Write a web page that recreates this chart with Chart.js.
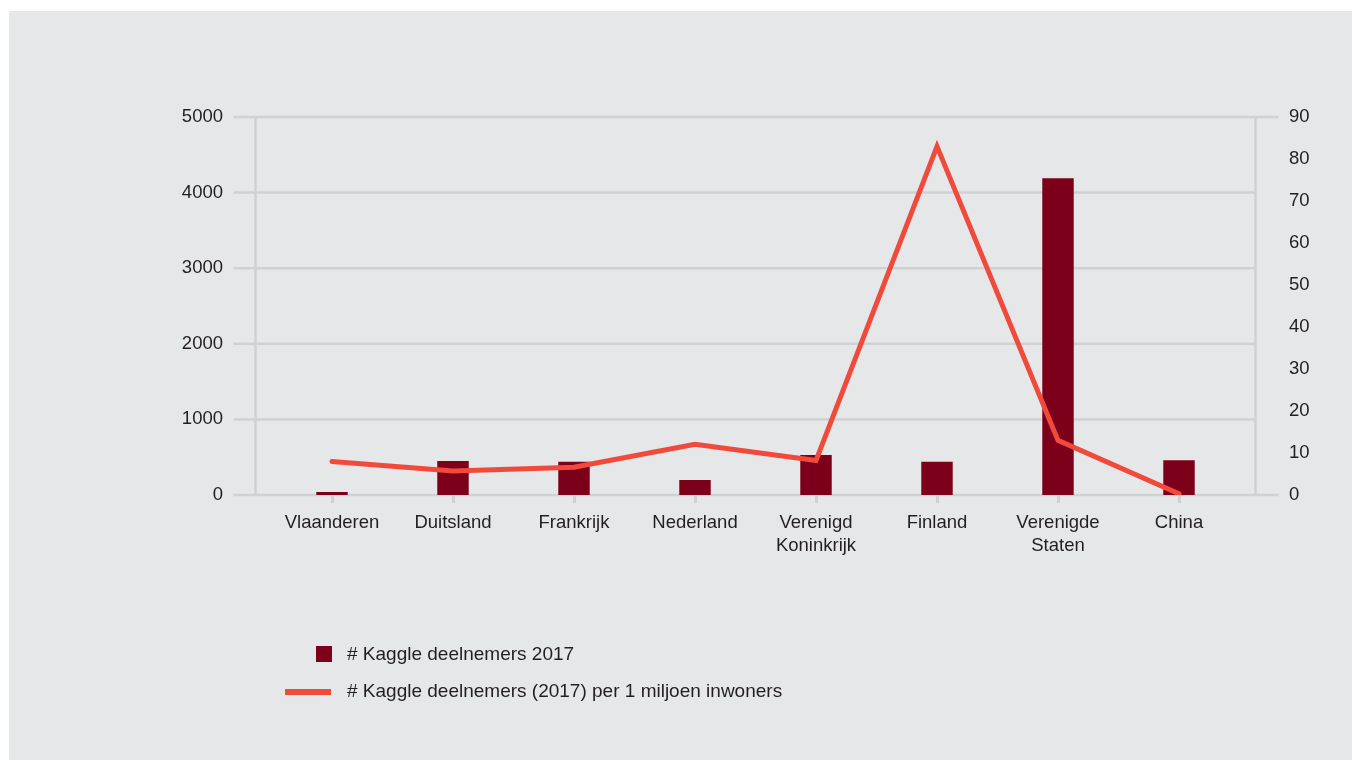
<!DOCTYPE html>
<html>
<head>
<meta charset="utf-8">
<script src="https://cdn.jsdelivr.net/npm/chart.js@4.4.1/dist/chart.umd.min.js"></script>
<style>
  html, body { margin: 0; padding: 0; background: #ffffff; }
  canvas { display: block; }
</style>
</head>
<body>
<canvas id="chart" width="1352" height="760"></canvas>
<script>
// Countries (multi-line labels as arrays)
const categories = [
  'Vlaanderen', 'Duitsland', 'Frankrijk', 'Nederland',
  ['Verenigd', 'Koninkrijk'], 'Finland', ['Verenigde', 'Staten'], 'China'
];
// Number of Kaggle participants in 2017
const participants = [40, 450, 440, 200, 530, 440, 4190, 460];
// Kaggle participants (2017) per 1 million inhabitants
const perMillion = [8.0, 5.7, 6.6, 12.1, 8.2, 83, 13.0, 0.3];

const leftTicks = [0, 1000, 2000, 3000, 4000, 5000];
const rightTicks = [0, 10, 20, 30, 40, 50, 60, 70, 80, 90];

const seriesNames = [
  '# Kaggle deelnemers 2017',
  '# Kaggle deelnemers (2017) per 1 miljoen inwoners'
];

const BG = '#e6e7e8';
const GRID = '#d0d1d3';
const TEXT = '#231f20';
const BAR = '#7c0019';
const LINE = '#ef4a3c';
const FAMILY = '"Liberation Sans", Arial, sans-serif';
const FONT = { family: FAMILY, size: 18.5 };
const LEGEND_SIZE = 19;

// Background panel, frame lines and legend drawn around the plot area
const framePlugin = {
  id: 'frame',
  beforeDraw(chart) {
    const ctx = chart.ctx;
    ctx.save();
    ctx.fillStyle = BG;
    ctx.fillRect(9, 11, chart.width - 9, chart.height - 11);
    ctx.restore();
  },
  beforeDatasetsDraw(chart) {
    const { ctx, chartArea, scales } = chart;
    const ys = scales.y;
    const leftEdge = chartArea.left - 16;
    const rightEdge = chartArea.right + 16;
    const yTop = ys.getPixelForValue(leftTicks[leftTicks.length - 1]);
    const yBottom = ys.getPixelForValue(leftTicks[0]);
    ctx.save();
    ctx.strokeStyle = GRID;
    ctx.lineWidth = 2.5;
    leftTicks.forEach((v, i) => {
      const y = ys.getPixelForValue(v);
      const isEdge = i === 0 || i === leftTicks.length - 1;
      ctx.beginPath();
      ctx.moveTo(chartArea.left - 38, y);
      ctx.lineTo(isEdge ? rightEdge + 23 : rightEdge, y);
      ctx.stroke();
    });
    [leftEdge, rightEdge].forEach(x => {
      ctx.beginPath();
      ctx.moveTo(x, yTop);
      ctx.lineTo(x, yBottom);
      ctx.stroke();
    });
    ctx.restore();
  },
  afterDraw(chart) {
    const ctx = chart.ctx;
    const ds = chart.data.datasets;
    ctx.save();
    ctx.font = `${LEGEND_SIZE}px ${FAMILY}`;
    ctx.textBaseline = 'middle';
    ctx.textAlign = 'left';
    // bar series entry
    ctx.fillStyle = ds[0].backgroundColor;
    ctx.fillRect(316, 646, 16, 16);
    ctx.fillStyle = TEXT;
    ctx.fillText(ds[0].label, 347, 655);
    // line series entry
    ctx.strokeStyle = ds[1].borderColor;
    ctx.lineWidth = 6;
    ctx.beginPath();
    ctx.moveTo(285, 692);
    ctx.lineTo(331, 692);
    ctx.stroke();
    ctx.fillText(ds[1].label, 347, 692);
    ctx.restore();
  }
};

const plainNumber = v => String(v);

new Chart(document.getElementById('chart'), {
  data: {
    labels: categories,
    datasets: [
      {
        type: 'bar',
        label: seriesNames[0],
        data: participants,
        yAxisID: 'y',
        backgroundColor: BAR,
        categoryPercentage: 1,
        barPercentage: 0.26,
        order: 2
      },
      {
        type: 'line',
        label: seriesNames[1],
        data: perMillion,
        yAxisID: 'y1',
        borderColor: LINE,
        backgroundColor: LINE,
        borderWidth: 5,
        pointRadius: 0,
        tension: 0,
        fill: false,
        borderJoinStyle: 'miter',
        borderCapStyle: 'round',
        order: 1
      }
    ]
  },
  options: {
    responsive: false,
    animation: false,
    devicePixelRatio: 1,
    layout: { padding: { left: 171.5, right: 12.5, top: 117, bottom: 165 } },
    plugins: {
      legend: { display: false },
      tooltip: { enabled: false }
    },
    scales: {
      x: {
        type: 'category',
        offset: true,
        border: { display: false },
        grid: {
          display: true,
          drawOnChartArea: false,
          drawTicks: true,
          tickLength: 8,
          lineWidth: 3,
          color: GRID,
          offset: false
        },
        ticks: { color: TEXT, font: { ...FONT, lineHeight: 1.25 }, padding: 8, maxRotation: 0, autoSkip: false },
        afterFit(s) { s.height = 100; }
      },
      y: {
        position: 'left',
        min: 0,
        max: 5000,
        border: { display: false },
        grid: { display: false, drawTicks: false },
        ticks: { color: TEXT, font: FONT, padding: 48.5, callback: plainNumber },
        afterBuildTicks(s) { s.ticks = leftTicks.map(v => ({ value: v })); },
        afterFit(s) { s.width = 100; }
      },
      y1: {
        position: 'right',
        min: 0,
        max: 90,
        border: { display: false },
        grid: { display: false, drawTicks: false },
        ticks: { color: TEXT, font: FONT, padding: 49.5, callback: plainNumber },
        afterBuildTicks(s) { s.ticks = rightTicks.map(v => ({ value: v })); },
        afterFit(s) { s.width = 100; }
      }
    }
  },
  plugins: [framePlugin]
});
</script>
</body>
</html>
